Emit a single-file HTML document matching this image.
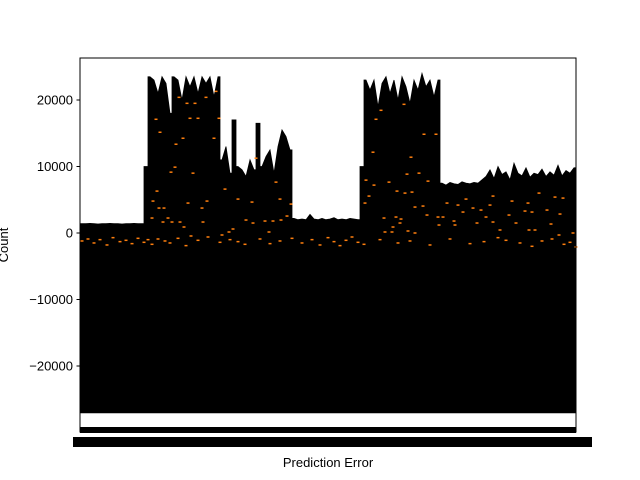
<!DOCTYPE html>
<html><head><meta charset="utf-8"><style>
html,body{margin:0;padding:0;background:#fff;}
svg{display:block;font-family:"Liberation Sans","DejaVu Sans",sans-serif;}
</style></head><body>
<svg id="chart" width="640" height="480" viewBox="0 0 640 480">
<rect x="0" y="0" width="640" height="480" fill="#fff"/>
<g id="plot"></g>
<g id="dashes"></g>
<rect x="80" y="58" width="496" height="374" fill="none" stroke="#000" stroke-width="1"/>
<rect x="80" y="427" width="496" height="6" fill="#000"/>
<rect x="73" y="437" width="519" height="10" fill="#000"/>
<g id="yaxis"></g>
<text x="328" y="467" font-size="13" text-anchor="middle">Prediction Error</text>
<text x="0" y="0" font-size="13" text-anchor="middle" transform="translate(8,245) rotate(-90)">Count</text>
</svg>
<script>
// envelope tops, one value per 4-px bin
const envelope = [1400,1400,1450,1400,1350,1400,1400,1450,1400,1400,1350,1400,1400,1450,1400,1400,10000,
23500,23000,21000,23500,22500,18000,23500,23000,20000,23500,22000,23500,21000,23500,22500,23500,20500,23500,
11000,13000,9000,17000,10000,9500,8500,11000,9500,16500,10000,11500,12500,9000,13000,15500,14500,12500,
2200,2000,2100,2000,2800,2100,2000,2200,2000,2100,2300,2000,2100,2000,2200,2100,2000,
10000,
23000,21500,23000,19000,22500,23500,21000,23000,20000,23500,22000,19500,23000,21500,24000,22000,23000,20500,23000,
7500,7200,7600,7400,7300,7700,7500,7400,7600,7500,
8000,8500,9500,8200,10000,8800,9200,8000,10500,9000,8600,9800,8400,9000,8800,9600,8500,9200,8700,10200,8600,9400,9000,9800];
const baseValue = -27050;
const yTicks = [20000,10000,0,-10000,-20000];
const yTickLabels = ["20000","10000","0","\u221210000","\u221220000"];
const dashX = [76,80,99,107,115,110,118,126,136,139,134,103,96,95,91,113,77,73,79,84,108,122,127,72,88,83,92,100,104,123,145,158,172,176,196,200,211,166,173,185,193,201,207,189,153,149,142,111,
324,301,296,344,356,293,331,327,339,286,309,348,294,317,325,332,289,285,335,343,347,304,316,321,313,320,328,335,305,312,358,363,359,367,374,375,378,383,386,393,401,397,410,413,413,406,420,429,432,436,448,445,452,459,467,471,475,483,480,449,455,479,493,
2,8,14,20,27,33,40,46,52,58,64,68,72,78,85,90,98,106,118,128,140,150,158,165,180,190,200,212,222,232,240,248,254,260,266,272,278,284,300,318,330,350,370,390,404,418,426,440,452,462,472,484,490,496];
const dashV = [17100,15150,20400,19500,19500,17250,17250,20400,21300,17250,14250,14250,13350,9900,9150,9000,6300,4800,3750,3750,4500,3750,4800,2250,2250,1650,1650,1650,900,1650,6600,5100,4650,11250,7650,5100,4350,1950,1500,1800,1800,1950,2550,150,600,150,-300,-450,
19350,18450,17100,14850,14850,12150,11400,8850,9000,7950,7650,7800,7200,6300,6000,6150,5550,4500,3900,4050,2700,2250,2400,2100,900,1500,300,0,150,150,2400,2400,1200,4500,1800,1200,4200,3150,5100,3750,3450,1500,4200,5550,1650,2400,450,2700,4800,1500,4500,3300,3150,6000,3450,1350,5400,5250,2850,450,450,-300,0,
-1200,-900,-1500,-1000,-1800,-700,-1300,-1100,-1600,-800,-1400,-1000,-1700,-900,-1200,-1500,-800,-1900,-1100,-600,-1400,-1000,-1300,-1700,-900,-1600,-1200,-800,-1500,-1000,-1800,-700,-1300,-1900,-1100,-600,-1400,-1700,-1000,-1500,-1200,-1800,-900,-1600,-1300,-700,-1100,-1500,-2000,-1200,-900,-1700,-1400,-2100];

const svgNS = "http://www.w3.org/2000/svg";
function xScale(b){ return 80 + b; }
function yScale(v){ return 233 - v * 66.5 / 10000; }

const plot = document.getElementById('plot');
let d = "M" + xScale(0) + "," + yScale(baseValue) + " L" + xScale(0) + "," + yScale(envelope[0]);
envelope.forEach(function(v, i){
  const prev = i > 0 ? envelope[i-1] : v;
  if (Math.abs(v - prev) > 5000) {
    d += " L" + xScale(i*4) + "," + yScale(prev) + " L" + xScale(i*4) + "," + yScale(v);
  }
  d += " L" + xScale(i*4+2) + "," + yScale(v);
});
d += " L" + xScale(envelope.length*4) + "," + yScale(envelope[envelope.length-1]);
d += " L" + xScale(envelope.length*4) + "," + yScale(baseValue) + " Z";
const p = document.createElementNS(svgNS, 'path');
p.setAttribute('d', d);
p.setAttribute('fill', '#000');
p.setAttribute('stroke', '#000');
p.setAttribute('stroke-width', '0.8');


plot.appendChild(p);

const dg = document.getElementById('dashes');
dashX.forEach(function(x, i){
  const r = document.createElementNS(svgNS, 'rect');
  r.setAttribute('x', xScale(x) - 1.5);
  r.setAttribute('y', yScale(dashV[i]) - 0.75);
  r.setAttribute('width', 3);
  r.setAttribute('height', 1.5);
  r.setAttribute('fill', '#ff7f0e');
  
  
  dg.appendChild(r);
});

const ya = document.getElementById('yaxis');
yTicks.forEach(function(v, i){
  const y = yScale(v);
  const l = document.createElementNS(svgNS, 'line');
  l.setAttribute('x1', 76.5); l.setAttribute('x2', 80);
  l.setAttribute('y1', y); l.setAttribute('y2', y);
  l.setAttribute('stroke', '#000');
  
  
  ya.appendChild(l);
  const t = document.createElementNS(svgNS, 'text');
  t.setAttribute('x', 73); t.setAttribute('y', y + 4.5);
  t.setAttribute('font-size', '13');
  t.setAttribute('text-anchor', 'end');
  t.textContent = yTickLabels[i];
  
  
  ya.appendChild(t);
});
</script>
</body></html>
